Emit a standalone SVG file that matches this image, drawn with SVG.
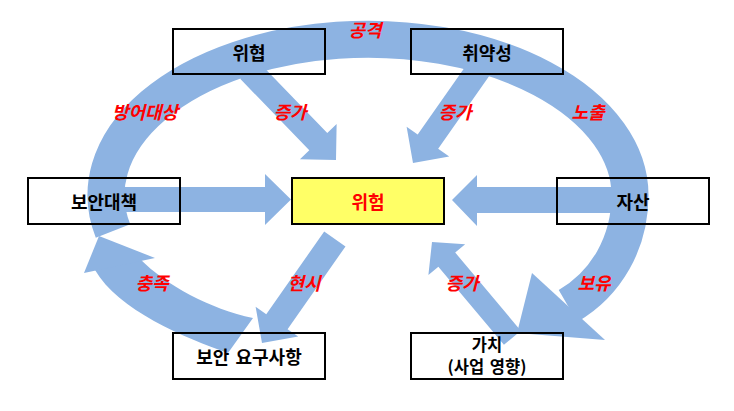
<svg xmlns="http://www.w3.org/2000/svg" width="734" height="411" viewBox="0 0 734 411">
<style>
.blue{fill:#8DB3E2;stroke:none}
.band{fill:none;stroke:#8DB3E2;stroke-linecap:butt}
.box{fill:none;stroke:#000;stroke-width:2}
.t{font-family:"Noto Sans CJK KR","Noto Sans",sans-serif;font-size:18px;font-weight:bold;text-anchor:middle;dominant-baseline:central;fill:#000}
.t2{font-size:16.5px}
.lbl{font-family:"Noto Sans CJK KR","Noto Sans",sans-serif;font-size:18px;font-weight:bold;font-style:italic;text-anchor:middle;dominant-baseline:central;fill:#FF0000}
</style>
<rect width="734" height="411" fill="#fff"/>
<g id="connectors">
  <path class="band" stroke-width="37" d="M113,231 A262,156 0 1 1 630,195 C630,243 606,284 568,306"/>
  <polygon class="blue" points="532,273 517,333 605,340"/>
  <path class="blue" d="M228,353 C185,338 118,310 95,270 L140,259 C166,285 210,309 253,318 Z"/>
  <polygon class="blue" points="99,236 84,273 155,258"/>
  <polygon class="blue" points="115,187 265,187 265,174 291,199.5 265,225 265,212 115,212"/>
  <polygon class="blue" points="625,187 477,187 477,175 452,200 477,226 477,213 625,213"/>
  <polygon class="blue" transform="translate(336,160) rotate(46)" points="0,0 -25.5,-25.5 -25.5,-12.5 -125,-12.5 -125,12.5 -25.5,12.5 -25.5,25.5"/>
  <polygon class="blue" transform="translate(413,163) rotate(125)" points="0,0 -26,-26 -26,-12.5 -115,-12.5 -115,12.5 -26,12.5 -26,26"/>
  <polygon class="blue" transform="translate(262,343) rotate(125)" points="0,0 -26,-26 -26,-13 -127,-13 -127,13 -26,13 -26,26"/>
  <polygon class="blue" transform="translate(432,242) rotate(-130)" points="0,0 -23,-24 -23,-11 -125,-11 -125,11 -23,11 -23,24"/>
</g>
<g id="n-threat"><rect class="box" x="173" y="29" width="152" height="45"/><text class="t" x="249" y="52">위협</text></g>
<g id="n-vuln"><rect class="box" x="411" y="29" width="152" height="45"/><text class="t" x="487" y="52">취약성</text></g>
<g id="n-control"><rect class="box" x="28" y="178" width="152" height="46"/><text class="t" x="104" y="201">보안대책</text></g>
<g id="n-risk"><rect x="292" y="178" width="152" height="46" fill="#FFFF66" stroke="#000" stroke-width="2"/><text class="t" x="368" y="201" style="fill:#FF0000">위험</text></g>
<g id="n-asset"><rect class="box" x="557" y="178" width="152" height="46"/><text class="t" x="633" y="201">자산</text></g>
<g id="n-req"><rect class="box" x="173" y="333" width="152" height="46"/><text class="t" x="249" y="356" style="word-spacing:2px">보안 요구사항</text></g>
<g id="n-value"><rect class="box" x="411" y="333" width="152" height="46"/><text class="t t2" x="487" y="343.5">가치</text><text class="t t2" x="487" y="366" style="word-spacing:2px">(사업 영향)</text></g>
<g id="labels">
  <text class="lbl" x="365" y="29">공격</text>
  <text class="lbl" x="145" y="111">방어대상</text>
  <text class="lbl" x="290" y="111">증가</text>
  <text class="lbl" x="455" y="111">증가</text>
  <text class="lbl" x="588" y="111">노출</text>
  <text class="lbl" x="152" y="282">충족</text>
  <text class="lbl" x="304" y="282">현시</text>
  <text class="lbl" x="462" y="282">증가</text>
  <text class="lbl" x="594" y="282">보유</text>
</g>
</svg>
